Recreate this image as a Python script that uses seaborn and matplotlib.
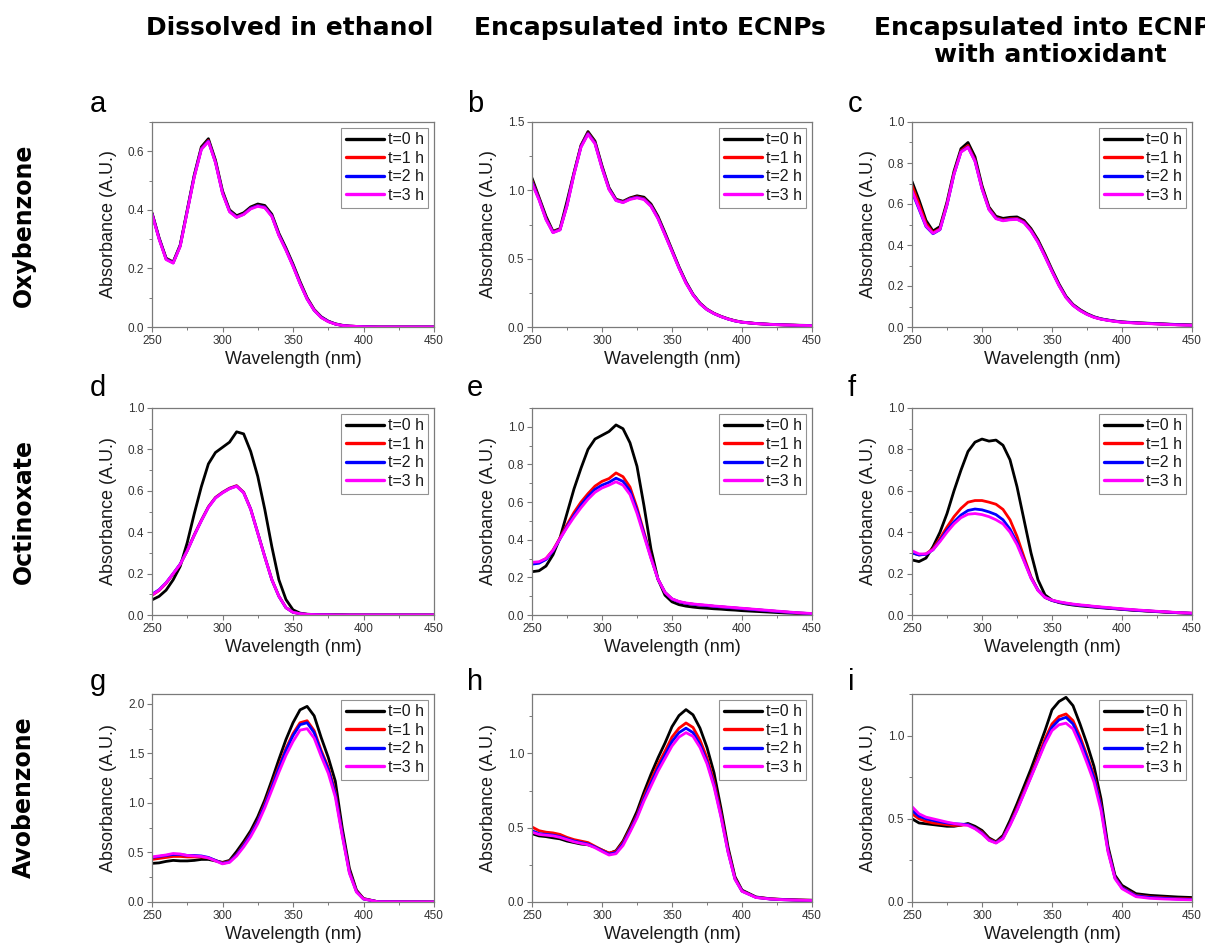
import matplotlib
matplotlib.use("Agg")
import matplotlib.pyplot as plt
import pandas as pd
import seaborn as sns
from matplotlib.lines import Line2D
from matplotlib.ticker import AutoMinorLocator, MultipleLocator

# ---------------- data ----------------
WAVELENGTH = [250, 255, 260, 265, 270, 275,
              280, 285, 290, 295, 300, 305,
              310, 315, 320, 325, 330, 335,
              340, 345, 350, 355, 360, 365,
              370, 375, 380, 385, 390, 395,
              400, 410, 420, 430, 440, 450]

TIMES = ["t=0 h", "t=1 h", "t=2 h", "t=3 h"]
COLORS = ["#000000", "#ff0000", "#0000ff", "#ff00ff"]
COL_TITLES = ["Dissolved in ethanol", "Encapsulated into ECNPs",
              "Encapsulated into ECNPs\nwith antioxidant"]
ROW_TITLES = ["Oxybenzone", "Octinoxate", "Avobenzone"]
PANEL_LETTERS = ["a", "b", "c", "d", "e", "f", "g", "h", "i"]
Y_MAX = [0.7, 1.5, 1.0, 1.0, 1.1, 1.0, 2.1, 1.4, 1.25]
Y_STEP = [0.2, 0.5, 0.2, 0.2, 0.2, 0.2, 0.5, 0.5, 0.5]

# (a) Oxybenzone, ethanol
OXY_ETH_T0 = [0.390, 0.305, 0.235, 0.222, 0.280, 0.400,
              0.520, 0.615, 0.643, 0.570, 0.465, 0.400,
              0.380, 0.390, 0.410, 0.420, 0.415, 0.385,
              0.320, 0.270, 0.215, 0.155, 0.100, 0.060,
              0.035, 0.020, 0.011, 0.006, 0.003, 0.002,
              0.001, 0.0, 0.0, 0.0, 0.0, 0.0]
OXY_ETH_T1 = [0.388, 0.303, 0.233, 0.220, 0.278, 0.397,
              0.516, 0.610, 0.637, 0.565, 0.460, 0.396,
              0.376, 0.386, 0.406, 0.415, 0.410, 0.380,
              0.315, 0.265, 0.210, 0.150, 0.097, 0.058,
              0.033, 0.019, 0.010, 0.005, 0.003, 0.002,
              0.001, 0.0, 0.0, 0.0, 0.0, 0.0]
OXY_ETH_T2 = [0.387, 0.302, 0.232, 0.219, 0.277, 0.396,
              0.515, 0.608, 0.635, 0.563, 0.458, 0.395,
              0.375, 0.385, 0.405, 0.414, 0.409, 0.379,
              0.314, 0.264, 0.209, 0.149, 0.096, 0.057,
              0.033, 0.019, 0.010, 0.005, 0.003, 0.002,
              0.001, 0.0, 0.0, 0.0, 0.0, 0.0]
OXY_ETH_T3 = [0.385, 0.300, 0.230, 0.218, 0.275, 0.394,
              0.512, 0.606, 0.633, 0.561, 0.456, 0.393,
              0.374, 0.384, 0.403, 0.412, 0.407, 0.377,
              0.312, 0.262, 0.207, 0.148, 0.095, 0.057,
              0.032, 0.018, 0.010, 0.005, 0.003, 0.002,
              0.001, 0.0, 0.0, 0.0, 0.0, 0.0]

# (b) Oxybenzone, ECNPs
OXY_NP_T0 = [1.090, 0.950, 0.810, 0.700, 0.720, 0.920,
             1.130, 1.330, 1.430, 1.360, 1.180, 1.020,
             0.935, 0.920, 0.945, 0.960, 0.950, 0.900,
             0.810, 0.690, 0.565, 0.440, 0.330, 0.240,
             0.175, 0.130, 0.100, 0.078, 0.060, 0.046,
             0.036, 0.026, 0.020, 0.016, 0.013, 0.011]
OXY_NP_T1 = [1.070, 0.940, 0.795, 0.695, 0.715, 0.895,
             1.125, 1.325, 1.420, 1.350, 1.170, 1.013,
             0.930, 0.915, 0.940, 0.952, 0.940, 0.890,
             0.800, 0.680, 0.558, 0.435, 0.325, 0.237,
             0.172, 0.128, 0.099, 0.077, 0.059, 0.045,
             0.035, 0.025, 0.019, 0.015, 0.012, 0.010]
OXY_NP_T2 = [1.060, 0.935, 0.790, 0.692, 0.712, 0.890,
             1.120, 1.320, 1.415, 1.345, 1.165, 1.010,
             0.927, 0.912, 0.937, 0.948, 0.936, 0.886,
             0.796, 0.677, 0.555, 0.433, 0.323, 0.236,
             0.171, 0.127, 0.098, 0.076, 0.058, 0.044,
             0.035, 0.025, 0.019, 0.015, 0.012, 0.010]
OXY_NP_T3 = [1.050, 0.930, 0.785, 0.690, 0.710, 0.885,
             1.115, 1.315, 1.410, 1.340, 1.160, 1.005,
             0.925, 0.910, 0.933, 0.945, 0.932, 0.882,
             0.792, 0.673, 0.552, 0.430, 0.320, 0.235,
             0.170, 0.127, 0.098, 0.076, 0.058, 0.044,
             0.035, 0.025, 0.019, 0.015, 0.012, 0.010]

# (c) Oxybenzone, ECNPs + antioxidant
OXY_AO_T0 = [0.710, 0.620, 0.520, 0.468, 0.490, 0.610,
             0.760, 0.870, 0.900, 0.830, 0.690, 0.585,
             0.540, 0.530, 0.535, 0.537, 0.520, 0.480,
             0.425, 0.355, 0.280, 0.210, 0.150, 0.110,
             0.085, 0.065, 0.050, 0.040, 0.034, 0.029,
             0.025, 0.021, 0.018, 0.015, 0.012, 0.010]
OXY_AO_T1 = [0.690, 0.600, 0.505, 0.460, 0.480, 0.600,
             0.750, 0.860, 0.885, 0.815, 0.680, 0.578,
             0.533, 0.523, 0.528, 0.530, 0.513, 0.473,
             0.418, 0.348, 0.274, 0.205, 0.146, 0.107,
             0.082, 0.063, 0.048, 0.039, 0.033, 0.028,
             0.024, 0.020, 0.017, 0.014, 0.011, 0.009]
OXY_AO_T2 = [0.660, 0.575, 0.490, 0.455, 0.475, 0.595,
             0.745, 0.855, 0.878, 0.810, 0.675, 0.574,
             0.530, 0.520, 0.525, 0.527, 0.510, 0.470,
             0.415, 0.345, 0.272, 0.203, 0.145, 0.106,
             0.081, 0.062, 0.048, 0.039, 0.033, 0.028,
             0.024, 0.020, 0.017, 0.014, 0.011, 0.009]
OXY_AO_T3 = [0.665, 0.580, 0.493, 0.457, 0.476, 0.596,
             0.745, 0.853, 0.876, 0.808, 0.673, 0.572,
             0.528, 0.518, 0.523, 0.525, 0.508, 0.468,
             0.413, 0.343, 0.270, 0.201, 0.143, 0.105,
             0.080, 0.061, 0.047, 0.038, 0.032, 0.027,
             0.023, 0.019, 0.016, 0.013, 0.010, 0.008]

# (d) Octinoxate, ethanol
OCT_ETH_T0 = [0.073, 0.090, 0.120, 0.170, 0.235, 0.350,
              0.490, 0.620, 0.730, 0.785, 0.810, 0.835,
              0.885, 0.875, 0.790, 0.670, 0.510, 0.330,
              0.170, 0.075, 0.025, 0.009, 0.004, 0.002,
              0.001, 0.001, 0.001, 0.001, 0.0, 0.0,
              0.0, 0.0, 0.0, 0.0, 0.0, 0.0]
OCT_ETH_T1 = [0.095, 0.118, 0.153, 0.198, 0.245, 0.312,
              0.388, 0.458, 0.523, 0.568, 0.593, 0.613,
              0.625, 0.593, 0.512, 0.397, 0.282, 0.171,
              0.091, 0.036, 0.013, 0.006, 0.003, 0.002,
              0.001, 0.001, 0.0, 0.0, 0.0, 0.0,
              0.0, 0.0, 0.0, 0.0, 0.0, 0.0]
OCT_ETH_T2 = [0.100, 0.122, 0.156, 0.200, 0.246, 0.311,
              0.386, 0.456, 0.521, 0.566, 0.591, 0.611,
              0.623, 0.591, 0.511, 0.396, 0.281, 0.170,
              0.090, 0.035, 0.013, 0.006, 0.003, 0.002,
              0.001, 0.001, 0.0, 0.0, 0.0, 0.0,
              0.0, 0.0, 0.0, 0.0, 0.0, 0.0]
OCT_ETH_T3 = [0.097, 0.120, 0.155, 0.200, 0.245, 0.310,
              0.385, 0.455, 0.520, 0.565, 0.590, 0.610,
              0.622, 0.590, 0.510, 0.395, 0.280, 0.170,
              0.090, 0.035, 0.013, 0.006, 0.003, 0.002,
              0.001, 0.001, 0.0, 0.0, 0.0, 0.0,
              0.0, 0.0, 0.0, 0.0, 0.0, 0.0]

# (e) Octinoxate, ECNPs
OCT_NP_T0 = [0.230, 0.235, 0.260, 0.320, 0.410, 0.540,
             0.670, 0.780, 0.880, 0.935, 0.955, 0.975,
             1.010, 0.990, 0.915, 0.790, 0.580, 0.350,
             0.190, 0.105, 0.070, 0.055, 0.047, 0.042,
             0.038, 0.036, 0.033, 0.031, 0.028, 0.026,
             0.023, 0.019, 0.015, 0.011, 0.008, 0.005]
OCT_NP_T1 = [0.275, 0.280, 0.300, 0.345, 0.410, 0.480,
             0.545, 0.600, 0.645, 0.685, 0.710, 0.725,
             0.755, 0.735, 0.680, 0.570, 0.440, 0.310,
             0.190, 0.120, 0.085, 0.070, 0.062, 0.057,
             0.053, 0.050, 0.046, 0.043, 0.040, 0.037,
             0.034, 0.028, 0.022, 0.016, 0.011, 0.007]
OCT_NP_T2 = [0.270, 0.275, 0.295, 0.340, 0.405, 0.470,
             0.530, 0.585, 0.630, 0.668, 0.690, 0.705,
             0.727, 0.710, 0.660, 0.555, 0.430, 0.305,
             0.190, 0.120, 0.085, 0.070, 0.062, 0.057,
             0.053, 0.050, 0.046, 0.043, 0.040, 0.037,
             0.034, 0.028, 0.022, 0.016, 0.011, 0.007]
OCT_NP_T3 = [0.280, 0.283, 0.300, 0.343, 0.405, 0.465,
             0.520, 0.570, 0.615, 0.652, 0.675, 0.690,
             0.708, 0.690, 0.640, 0.540, 0.420, 0.300,
             0.190, 0.120, 0.086, 0.072, 0.064, 0.059,
             0.055, 0.052, 0.048, 0.045, 0.042, 0.039,
             0.036, 0.030, 0.024, 0.018, 0.012, 0.008]

# (f) Octinoxate, ECNPs + antioxidant
OCT_AO_T0 = [0.266, 0.258, 0.275, 0.330, 0.400, 0.490,
             0.600, 0.700, 0.790, 0.835, 0.850, 0.840,
             0.845, 0.820, 0.750, 0.620, 0.460, 0.300,
             0.170, 0.097, 0.072, 0.060, 0.053, 0.048,
             0.044, 0.041, 0.038, 0.035, 0.032, 0.030,
             0.027, 0.022, 0.018, 0.014, 0.011, 0.008]
OCT_AO_T1 = [0.300, 0.290, 0.295, 0.320, 0.370, 0.425,
             0.475, 0.515, 0.545, 0.553, 0.553, 0.545,
             0.535, 0.510, 0.460, 0.380, 0.280, 0.185,
             0.120, 0.085, 0.070, 0.062, 0.056, 0.051,
             0.047, 0.044, 0.040, 0.037, 0.034, 0.031,
             0.028, 0.023, 0.019, 0.015, 0.011, 0.008]
OCT_AO_T2 = [0.300, 0.290, 0.293, 0.315, 0.360, 0.410,
             0.450, 0.483, 0.505, 0.512, 0.508, 0.498,
             0.485, 0.460, 0.415, 0.350, 0.265, 0.180,
             0.120, 0.085, 0.070, 0.062, 0.056, 0.051,
             0.047, 0.044, 0.040, 0.037, 0.034, 0.031,
             0.028, 0.023, 0.019, 0.015, 0.011, 0.008]
OCT_AO_T3 = [0.310, 0.295, 0.295, 0.315, 0.355, 0.400,
             0.440, 0.470, 0.487, 0.490, 0.485, 0.475,
             0.460, 0.440, 0.400, 0.340, 0.260, 0.178,
             0.118, 0.085, 0.072, 0.064, 0.058, 0.053,
             0.049, 0.046, 0.042, 0.039, 0.036, 0.033,
             0.030, 0.025, 0.020, 0.016, 0.012, 0.009]

# (g) Avobenzone, ethanol
AVO_ETH_T0 = [0.390, 0.395, 0.410, 0.420, 0.415, 0.415,
              0.420, 0.430, 0.430, 0.415, 0.400, 0.420,
              0.510, 0.610, 0.720, 0.860, 1.030, 1.230,
              1.440, 1.640, 1.810, 1.940, 1.975, 1.880,
              1.660, 1.460, 1.220, 0.740, 0.340, 0.120,
              0.035, 0.003, 0.002, 0.001, 0.001, 0.0]
AVO_ETH_T1 = [0.430, 0.440, 0.450, 0.460, 0.460, 0.455,
              0.455, 0.455, 0.445, 0.420, 0.395, 0.410,
              0.480, 0.580, 0.690, 0.820, 0.990, 1.180,
              1.370, 1.550, 1.700, 1.810, 1.830, 1.730,
              1.530, 1.360, 1.110, 0.690, 0.310, 0.110,
              0.033, 0.003, 0.002, 0.001, 0.001, 0.0]
AVO_ETH_T2 = [0.450, 0.460, 0.470, 0.480, 0.480, 0.470,
              0.470, 0.465, 0.450, 0.420, 0.390, 0.405,
              0.475, 0.570, 0.680, 0.810, 0.975, 1.160,
              1.350, 1.530, 1.680, 1.790, 1.810, 1.710,
              1.510, 1.340, 1.090, 0.680, 0.300, 0.105,
              0.030, 0.003, 0.002, 0.001, 0.001, 0.0]
AVO_ETH_T3 = [0.455, 0.465, 0.475, 0.490, 0.485, 0.470,
              0.465, 0.460, 0.445, 0.415, 0.385, 0.400,
              0.465, 0.555, 0.660, 0.790, 0.950, 1.130,
              1.310, 1.480, 1.620, 1.735, 1.750, 1.655,
              1.470, 1.300, 1.060, 0.660, 0.290, 0.100,
              0.030, 0.003, 0.002, 0.001, 0.001, 0.0]

# (h) Avobenzone, ECNPs
AVO_NP_T0 = [0.460, 0.445, 0.440, 0.432, 0.425, 0.410,
             0.400, 0.390, 0.385, 0.370, 0.350, 0.327,
             0.345, 0.410, 0.505, 0.610, 0.740, 0.860,
             0.970, 1.070, 1.180, 1.255, 1.295, 1.260,
             1.170, 1.040, 0.870, 0.630, 0.370, 0.170,
             0.080, 0.034, 0.022, 0.017, 0.014, 0.012]
AVO_NP_T1 = [0.505, 0.480, 0.470, 0.465, 0.455, 0.435,
             0.420, 0.410, 0.400, 0.375, 0.350, 0.330,
             0.340, 0.400, 0.490, 0.585, 0.710, 0.820,
             0.925, 1.015, 1.110, 1.170, 1.205, 1.175,
             1.090, 0.970, 0.810, 0.595, 0.350, 0.160,
             0.075, 0.032, 0.021, 0.016, 0.013, 0.011]
AVO_NP_T2 = [0.480, 0.460, 0.455, 0.450, 0.440, 0.425,
             0.410, 0.400, 0.390, 0.370, 0.345, 0.322,
             0.332, 0.390, 0.480, 0.575, 0.695, 0.800,
             0.900, 0.990, 1.080, 1.140, 1.170, 1.140,
             1.060, 0.945, 0.790, 0.580, 0.340, 0.155,
             0.073, 0.031, 0.020, 0.015, 0.012, 0.010]
AVO_NP_T3 = [0.470, 0.455, 0.450, 0.445, 0.435, 0.420,
             0.405, 0.395, 0.385, 0.365, 0.340, 0.316,
             0.325, 0.380, 0.470, 0.565, 0.680, 0.780,
             0.880, 0.965, 1.050, 1.110, 1.140, 1.115,
             1.040, 0.930, 0.775, 0.570, 0.335, 0.152,
             0.072, 0.030, 0.020, 0.015, 0.012, 0.010]

# (i) Avobenzone, ECNPs + antioxidant
AVO_AO_T0 = [0.500, 0.475, 0.470, 0.465, 0.460, 0.455,
             0.455, 0.462, 0.472, 0.455, 0.430, 0.385,
             0.362, 0.400, 0.490, 0.590, 0.695, 0.800,
             0.915, 1.030, 1.155, 1.205, 1.230, 1.180,
             1.070, 0.950, 0.815, 0.620, 0.335, 0.160,
             0.100, 0.050, 0.040, 0.035, 0.030, 0.027]
AVO_AO_T1 = [0.530, 0.500, 0.485, 0.475, 0.470, 0.465,
             0.460, 0.462, 0.465, 0.445, 0.420, 0.378,
             0.358, 0.390, 0.470, 0.565, 0.665, 0.765,
             0.870, 0.980, 1.070, 1.115, 1.130, 1.090,
             0.995, 0.880, 0.760, 0.580, 0.315, 0.148,
             0.088, 0.040, 0.030, 0.025, 0.021, 0.018]
AVO_AO_T2 = [0.550, 0.515, 0.500, 0.490, 0.482, 0.475,
             0.470, 0.468, 0.465, 0.443, 0.415, 0.373,
             0.356, 0.385, 0.465, 0.555, 0.655, 0.755,
             0.855, 0.960, 1.050, 1.095, 1.110, 1.070,
             0.975, 0.865, 0.745, 0.570, 0.310, 0.145,
             0.085, 0.037, 0.027, 0.022, 0.018, 0.015]
AVO_AO_T3 = [0.573, 0.530, 0.510, 0.500, 0.490, 0.480,
             0.472, 0.466, 0.460, 0.440, 0.410, 0.370,
             0.354, 0.380, 0.460, 0.550, 0.650, 0.750,
             0.850, 0.950, 1.030, 1.065, 1.075, 1.040,
             0.945, 0.835, 0.720, 0.550, 0.300, 0.140,
             0.080, 0.032, 0.022, 0.018, 0.015, 0.013]

PANELS = [
    [OXY_ETH_T0, OXY_ETH_T1, OXY_ETH_T2, OXY_ETH_T3],
    [OXY_NP_T0, OXY_NP_T1, OXY_NP_T2, OXY_NP_T3],
    [OXY_AO_T0, OXY_AO_T1, OXY_AO_T2, OXY_AO_T3],
    [OCT_ETH_T0, OCT_ETH_T1, OCT_ETH_T2, OCT_ETH_T3],
    [OCT_NP_T0, OCT_NP_T1, OCT_NP_T2, OCT_NP_T3],
    [OCT_AO_T0, OCT_AO_T1, OCT_AO_T2, OCT_AO_T3],
    [AVO_ETH_T0, AVO_ETH_T1, AVO_ETH_T2, AVO_ETH_T3],
    [AVO_NP_T0, AVO_NP_T1, AVO_NP_T2, AVO_NP_T3],
    [AVO_AO_T0, AVO_AO_T1, AVO_AO_T2, AVO_AO_T3],
]

# ---------------- style ----------------
sns.set_style("ticks")
plt.rcParams["font.family"] = ["Liberation Sans", "DejaVu Sans"]
plt.rcParams["text.color"] = "black"

W, H = 1205, 950
fig = plt.figure(figsize=(W / 100, H / 100), dpi=100)
fig.patch.set_facecolor("white")

COL_LEFT = [152, 532, 912]
COL_W = [282, 280, 280]
ROW_TOP = [122, 408, 694]
ROW_H = [205, 207, 208]
SPINE = "#7a7a7a"
TICKTXT = "#333333"


def px_axes(left, top, w, h):
    return fig.add_axes([left / W, 1 - (top + h) / H, w / W, h / H])


for idx, series in enumerate(PANELS):
    r, c = divmod(idx, 3)
    ax = px_axes(COL_LEFT[c], ROW_TOP[r], COL_W[c], ROW_H[r])
    frames = []
    for t, vals in zip(TIMES, series):
        frames.append(pd.DataFrame({"Wavelength": WAVELENGTH,
                                    "Absorbance": vals, "Time": t}))
    df = pd.concat(frames, ignore_index=True)
    sns.lineplot(data=df, x="Wavelength", y="Absorbance", hue="Time",
                 hue_order=TIMES, palette=COLORS, linewidth=2.0,
                 estimator=None, sort=False, legend=False, ax=ax,
                 solid_joinstyle="round", solid_capstyle="round")
    ax.set_xlim(250, 450)
    ax.set_ylim(0, Y_MAX[idx])
    ax.xaxis.set_major_locator(MultipleLocator(50))
    ax.xaxis.set_minor_locator(AutoMinorLocator(2))
    ax.yaxis.set_major_locator(MultipleLocator(Y_STEP[idx]))
    ax.yaxis.set_minor_locator(AutoMinorLocator(2))
    ax.set_xlabel("Wavelength (nm)", fontsize=13, color="#1a1a1a", labelpad=3)
    ax.set_ylabel("Absorbance (A.U.)", fontsize=13, color="#1a1a1a", labelpad=8)
    for sp in ax.spines.values():
        sp.set_visible(True)
        sp.set_color(SPINE)
        sp.set_linewidth(0.9)
    ax.tick_params(which="major", direction="out", length=3.5, width=0.8,
                   color=SPINE, labelsize=8.5, labelcolor=TICKTXT, pad=2)
    ax.tick_params(which="minor", direction="out", length=2, width=0.7,
                   color=SPINE)
    handles = [Line2D([0], [0], color=col, lw=2.4) for col in COLORS]
    leg = ax.legend(handles, TIMES, loc="upper right", fontsize=11.5,
                    frameon=True, fancybox=False, handlelength=2.4,
                    handletextpad=0.2, labelspacing=0.22, borderpad=0.3,
                    borderaxespad=0.35)
    leg.get_frame().set_edgecolor("#777777")
    leg.get_frame().set_linewidth(0.8)
    for txt in leg.get_texts():
        txt.set_color("#1a1a1a")

# column titles
COL_CENTER = [290, 650, 1050]
for x, title in zip(COL_CENTER, COL_TITLES):
    fig.text(x / W, 1 - 16 / H, title, ha="center", va="top",
             fontsize=18, fontweight="bold", family="DejaVu Sans",
             linespacing=1.15, color="black")

# row titles
ROW_CENTER = [225, 511, 797]
for y, title in zip(ROW_CENTER, ROW_TITLES):
    fig.text(24 / W, 1 - y / H, title, ha="center", va="center",
             rotation=90, fontsize=17, fontweight="bold",
             family="DejaVu Sans", color="black")

# panel letters
LETTER_X = [90, 467, 848]
LETTER_BASE = [112, 396, 690]
for idx, letter in enumerate(PANEL_LETTERS):
    r, c = divmod(idx, 3)
    fig.text(LETTER_X[c] / W, 1 - LETTER_BASE[r] / H, letter,
             ha="left", va="baseline", fontsize=21, color="black")

fig.savefig("out.png", dpi=100, facecolor="white")
